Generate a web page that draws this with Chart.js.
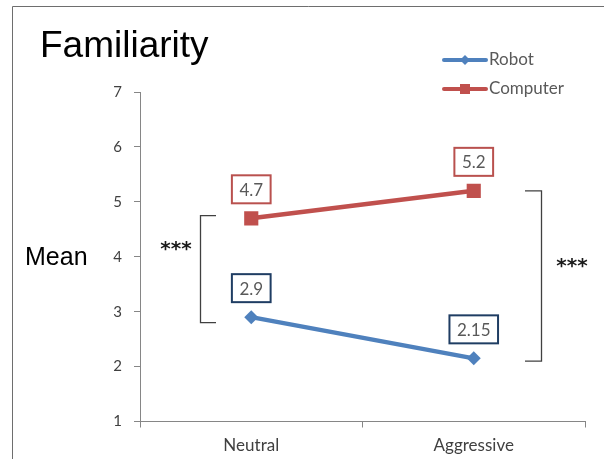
<!DOCTYPE html>
<html><head><meta charset="utf-8">
<script src="https://cdn.jsdelivr.net/npm/chart.js@4"></script>
<style>html,body{margin:0;padding:0;background:#fff;} #wrap{width:604px;height:459px;position:relative}</style>
</head><body><div id="wrap"><canvas id="c" width="604" height="459"></canvas></div>
<script>
const categories = ['Neutral', 'Aggressive'];
const seriesNames = ['Robot', 'Computer'];
const robotValues = [2.9, 2.15];
const computerValues = [4.7, 5.2];
const robotLabels = ['2.9', '2.15'];
const computerLabels = ['4.7', '5.2'];
const yTickValues = [1, 2, 3, 4, 5, 6, 7];
const chartTitle = 'Familiarity';
const yAxisTitle = 'Mean';
const leftBracket = [4.75, 2.8];
const rightBracket = [5.2, 2.1];
const significanceLabel = '***';

const ROBOT = '#4F81BD', COMPUTER = '#C0504D';
const ROBOT_BOX = '#1F3D63', COMPUTER_BOX = '#B9514E';
const AXIS = '#868686';
const LABEL_FONT = 'Lato';

function drawBox(ctx, text, cx, cy, border) {
  ctx.font = '17px ' + LABEL_FONT;
  const w = ctx.measureText(text).width + 15;
  const h = 28;
  ctx.fillStyle = '#fff';
  ctx.fillRect(cx - w / 2, cy - h / 2, w, h);
  ctx.lineWidth = 2;
  ctx.strokeStyle = border;
  ctx.strokeRect(cx - w / 2, cy - h / 2, w, h);
  ctx.fillStyle = '#595959';
  ctx.textAlign = 'center';
  ctx.textBaseline = 'middle';
  ctx.fillText(text, cx, cy + 1);
}

const decor = {
  id: 'decor',
  afterDraw(chart) {
    const ctx = chart.ctx;
    const ys = chart.scales.y;
    ctx.save();
    // outer frame
    ctx.strokeStyle = '#6e6e6e';
    ctx.lineWidth = 1;
    ctx.beginPath();
    ctx.moveTo(12.5, 459); ctx.lineTo(12.5, 6.5); ctx.lineTo(604, 6.5);
    ctx.stroke();
    // title
    ctx.fillStyle = '#000';
    ctx.textAlign = 'left';
    ctx.textBaseline = 'alphabetic';
    ctx.font = '37px "Liberation Sans", Arial, sans-serif';
    ctx.fillText(chartTitle, 40, 57);
    // y axis title
    ctx.font = '25px "Liberation Sans", Arial, sans-serif';
    ctx.fillText(yAxisTitle, 25, 265);
    // legend
    const legendY = [60, 89];
    const colors = [ROBOT, COMPUTER];
    for (let i = 0; i < seriesNames.length; i++) {
      const y = legendY[i];
      ctx.strokeStyle = colors[i];
      ctx.lineWidth = 4;
      ctx.lineCap = 'round';
      ctx.beginPath(); ctx.moveTo(444, y); ctx.lineTo(486, y); ctx.stroke();
      ctx.fillStyle = colors[i];
      if (i === 0) {
        ctx.beginPath();
        ctx.moveTo(465 - 5, y); ctx.lineTo(465, y - 5); ctx.lineTo(465 + 5, y); ctx.lineTo(465, y + 5);
        ctx.closePath(); ctx.fill();
      } else {
        ctx.fillRect(460, y - 5, 10, 10);
      }
      ctx.fillStyle = '#595959';
      ctx.font = '17px ' + LABEL_FONT;
      ctx.textAlign = 'left';
      ctx.textBaseline = 'middle';
      ctx.fillText(seriesNames[i], 489, y);
    }
    // data label boxes
    const boxes = [[0, robotLabels, ROBOT_BOX], [1, computerLabels, COMPUTER_BOX]];
    boxes.forEach(([di, labels, col]) => {
      const meta = chart.getDatasetMeta(di);
      meta.data.forEach((pt, i) => drawBox(ctx, labels[i], pt.x, pt.y - 29, col));
    });
    // brackets
    ctx.strokeStyle = '#404040';
    ctx.lineWidth = 1.3;
    ctx.lineCap = 'butt';
    const lt = ys.getPixelForValue(leftBracket[0]), lb = ys.getPixelForValue(leftBracket[1]);
    ctx.beginPath();
    ctx.moveTo(216, lt); ctx.lineTo(200.5, lt); ctx.lineTo(200.5, lb); ctx.lineTo(216, lb);
    ctx.stroke();
    const rt = ys.getPixelForValue(rightBracket[0]), rb = ys.getPixelForValue(rightBracket[1]);
    ctx.beginPath();
    ctx.moveTo(525, rt); ctx.lineTo(541.5, rt); ctx.lineTo(541.5, rb); ctx.lineTo(525, rb);
    ctx.stroke();
    // stars
    ctx.fillStyle = '#1a1a1a';
    ctx.font = 'bold 20px "DejaVu Sans"';
    ctx.textAlign = 'center';
    ctx.textBaseline = 'middle';
    ctx.fillText(significanceLabel, 176, 250);
    ctx.fillText(significanceLabel, 572, 267);
    ctx.restore();
  }
};

new Chart(document.getElementById('c'), {
  type: 'line',
  data: {
    labels: categories,
    datasets: [
      { label: seriesNames[0], data: robotValues, borderColor: ROBOT, backgroundColor: ROBOT,
        borderWidth: 4.5, pointStyle: 'rectRot', pointRadius: 7, pointHoverRadius: 7, pointBorderWidth: 0 },
      { label: seriesNames[1], data: computerValues, borderColor: COMPUTER, backgroundColor: COMPUTER,
        borderWidth: 4.5, pointStyle: 'rect', pointRadius: 10, pointHoverRadius: 10, pointBorderWidth: 0 }
    ]
  },
  options: {
    responsive: false,
    animation: false,
    devicePixelRatio: 1,
    layout: { padding: { left: 0, top: 92, right: 19, bottom: 0 } },
    plugins: { legend: { display: false }, title: { display: false }, tooltip: { enabled: false } },
    scales: {
      x: {
        offset: true,
        grid: { offset: true, drawOnChartArea: false, drawTicks: true, tickLength: 6, color: AXIS },
        border: { display: true, color: AXIS, width: 1 },
        ticks: { color: '#404040', font: { family: LABEL_FONT, size: 17 }, padding: 8 },
        afterFit(s) { s.height = 37.5; }
      },
      y: {
        min: 1, max: 7,
        afterBuildTicks(s) { s.ticks = yTickValues.map(v => ({ value: v })); },
        grid: { drawOnChartArea: false, drawTicks: true, tickLength: 6, color: AXIS },
        border: { display: true, color: AXIS, width: 1 },
        ticks: { color: '#404040', font: { family: LABEL_FONT, size: 15 }, padding: 12 },
        afterFit(s) { s.width = 140; }
      }
    }
  },
  plugins: [decor]
});
</script>
</body></html>
